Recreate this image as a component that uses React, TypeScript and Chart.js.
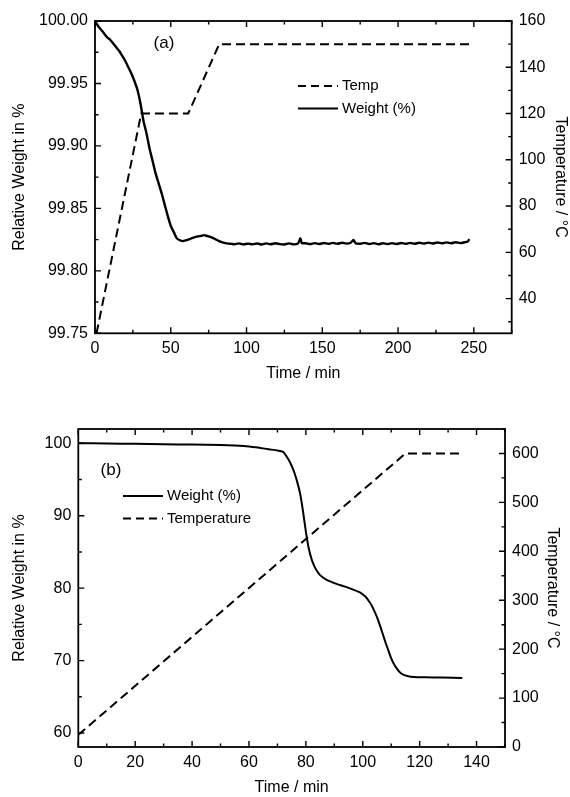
import React, { useEffect, useRef } from "react";
import { Chart, registerables } from "chart.js";

Chart.register(...registerables);

// ---------- Panel (a) data ----------
const weightA_time = [
  0, 2, 4, 6, 8, 10, 12, 14, 16, 18, 20, 22, 24, 26, 28, 30, 32, 34, 36, 38, 40, 42, 44, 46, 48, 50, 52, 54, 56,
  58, 60, 62, 64, 66, 68, 70, 72, 74, 76, 78, 80, 82, 84, 86, 88, 90,
  92, 95, 98, 101, 104, 107, 110, 113, 116, 119, 122, 125, 128, 131, 134, 135.5, 136.5, 139, 142, 145, 148, 151, 154,
  157, 160, 163, 166, 169, 170.5, 172, 175, 178, 181, 184, 187, 190, 193, 196, 199, 202, 205, 208, 211, 214, 217,
  220, 223, 226, 229, 232, 235, 238, 241, 244, 246, 247,
];
const weightA_value = [
  100.0, 99.996, 99.993, 99.99, 99.987, 99.985, 99.982, 99.979, 99.976, 99.972, 99.968, 99.963, 99.958, 99.952,
  99.945, 99.934, 99.92, 99.91, 99.898, 99.888, 99.878, 99.87, 99.862, 99.853, 99.844, 99.836, 99.831, 99.826,
  99.8245,
  99.8238, 99.8244, 99.8252, 99.8262, 99.827, 99.8276, 99.828, 99.8286, 99.8279, 99.8272, 99.8262, 99.825, 99.8238,
  99.8228, 99.8222, 99.8218, 99.8216,
  99.8212, 99.822, 99.8211, 99.8218, 99.8212, 99.8219, 99.8211, 99.822, 99.8213, 99.8221, 99.8214, 99.8211,
  99.822, 99.8212, 99.8219, 99.8262, 99.8222, 99.8221, 99.8214, 99.8222, 99.8215, 99.8223, 99.8216,
  99.8224, 99.8217, 99.8225, 99.8218, 99.8227, 99.8248, 99.8221, 99.8217, 99.8224, 99.8215, 99.8222, 99.8213,
  99.8221, 99.8214, 99.8222, 99.8215, 99.8223, 99.8216, 99.8224, 99.8217, 99.8225, 99.8218, 99.8226, 99.8219,
  99.8227, 99.822, 99.8228, 99.8221, 99.8229, 99.8222, 99.8229, 99.8234, 99.8254,
];
const tempA_time = [1, 30.5, 61.5, 82, 247.5];
const tempA_value = [25, 120, 120, 150, 150];

const xTicksA = [0, 50, 100, 150, 200, 250];
const yTicksA = [99.75, 99.8, 99.85, 99.9, 99.95, 100.0];
const rTicksA = [40, 60, 80, 100, 120, 140, 160];

// ---------- Panel (b) data ----------
const weightB_time = [
  0, 10, 20, 30, 40, 50, 55, 60, 64, 67, 70, 72, 73, 74, 75, 76, 77, 78, 79, 80, 81, 82, 83, 84, 85, 87, 90, 93,
  96, 99, 101, 102, 103, 104, 105, 106, 107, 108, 109, 110, 111, 112, 113, 114, 116, 118, 122, 128, 135,
];
const weightB_value = [
  100.0, 99.97, 99.92, 99.86, 99.82, 99.75, 99.68, 99.56, 99.35, 99.17, 99.0, 98.8, 98.3, 97.7, 96.9, 95.9, 94.6,
  93.0, 90.6, 87.8, 85.5, 84.0, 83.0, 82.3, 81.8, 81.2, 80.7, 80.3, 79.9, 79.4, 78.8, 78.3, 77.7, 76.9, 76.0, 74.9,
  73.7, 72.5, 71.4, 70.3, 69.5, 68.9, 68.4, 68.1, 67.85, 67.75, 67.7, 67.65, 67.6,
];
const tempB_time = [0, 115, 134];
const tempB_value = [25, 600, 600];

const xTicksB = [0, 20, 40, 60, 80, 100, 120, 140];
const yTicksB = [60, 70, 80, 90, 100];
const rTicksB = [0, 100, 200, 300, 400, 500, 600];

// ---------- styling ----------
const FAMILY = "'Liberation Sans', Arial, Helvetica, sans-serif";
const tickFont = { family: FAMILY, size: 16 };
const titleFont = { family: FAMILY, size: 16 };
const BLACK = "#000";

function pts(t: number[], v: number[]) {
  return t.map((x, i) => ({ x, y: v[i] }));
}

function isMajor(arr: number[], v: number) {
  return arr.some((m) => Math.abs(m - v) < 1e-7);
}

function minorValues(min: number, max: number, step: number) {
  const start = Math.ceil(min / step - 1e-9);
  const end = Math.floor(max / step + 1e-9);
  const out: number[] = [];
  for (let i = start; i <= end; i++) out.push(i * step);
  return out;
}

type LegendItem = { text: string; dashed: boolean; y: number };

function makeDecorPlugin(cfg: {
  xStep: number;
  yStep: number;
  rStep: number;
  xMajor: number[];
  yMajor: number[];
  rMajor: number[];
  tag: string;
  tagX: number;
  tagY: number;
  legendX0: number;
  legendX1: number;
  legendTextX: number;
  legend: LegendItem[];
}) {
  return {
    id: "decor",
    afterDatasetsDraw(chart: any) {
      const { ctx, chartArea: ca, scales } = chart;
      const xs = scales.x;
      const ys = scales.y;
      const rs = scales.yR;
      ctx.save();
      ctx.strokeStyle = BLACK;
      ctx.setLineDash([]);
      // ticks
      ctx.lineWidth = 1.4;
      const MAJ = 6;
      const MIN = 3.5;
      ctx.beginPath();
      for (const v of minorValues(xs.min, xs.max, cfg.xStep)) {
        const px = xs.getPixelForValue(v);
        const L = isMajor(cfg.xMajor, v) ? MAJ : MIN;
        ctx.moveTo(px, ca.bottom);
        ctx.lineTo(px, ca.bottom - L);
        ctx.moveTo(px, ca.top);
        ctx.lineTo(px, ca.top + L);
      }
      for (const v of minorValues(ys.min, ys.max, cfg.yStep)) {
        const py = ys.getPixelForValue(v);
        const L = isMajor(cfg.yMajor, v) ? MAJ : MIN;
        ctx.moveTo(ca.left, py);
        ctx.lineTo(ca.left + L, py);
      }
      for (const v of minorValues(rs.min, rs.max, cfg.rStep)) {
        const py = rs.getPixelForValue(v);
        const L = isMajor(cfg.rMajor, v) ? MAJ : MIN;
        ctx.moveTo(ca.right, py);
        ctx.lineTo(ca.right - L, py);
      }
      ctx.stroke();
      // frame
      ctx.lineWidth = 1.8;
      ctx.strokeRect(ca.left, ca.top, ca.right - ca.left, ca.bottom - ca.top);

      // panel tag
      ctx.fillStyle = BLACK;
      ctx.font = `17px ${FAMILY}`;
      ctx.textAlign = "center";
      ctx.textBaseline = "middle";
      ctx.fillText(cfg.tag, cfg.tagX, cfg.tagY);

      // legend
      ctx.font = `15px ${FAMILY}`;
      ctx.textAlign = "left";
      for (const item of cfg.legend) {
        ctx.lineWidth = 2;
        ctx.setLineDash(item.dashed ? [8, 5] : []);
        ctx.beginPath();
        ctx.moveTo(cfg.legendX0, item.y);
        ctx.lineTo(cfg.legendX1, item.y);
        ctx.stroke();
        ctx.setLineDash([]);
        ctx.fillText(item.text, cfg.legendTextX, item.y);
      }
      ctx.restore();
    },
  };
}

function axisBase(ticks: number[], min: number, max: number) {
  return {
    type: "linear" as const,
    min,
    max,
    afterBuildTicks: (s: any) => {
      s.ticks = ticks.map((v) => ({ value: v }));
    },
    grid: { display: false, drawTicks: false },
    border: { display: false },
  };
}

function makeConfig(p: {
  tempT: number[];
  tempV: number[];
  wT: number[];
  wV: number[];
  tempFirst: boolean;
  xTicks: number[];
  xMin: number;
  xMax: number;
  yTicks: number[];
  yMin: number;
  yMax: number;
  yFmt: (v: number) => string;
  rTicks: number[];
  rMin: number;
  rMax: number;
  padTop: number;
  leftW: number;
  rightW: number;
  bottomH: number;
  leftTitlePad: number;
  rightTitlePad: number;
  bottomTitlePad: number;
  weightWidth: number;
  plugin: any;
}) {
  const tempDs = {
    label: "Temp",
    data: pts(p.tempT, p.tempV),
    yAxisID: "yR",
    borderColor: BLACK,
    borderWidth: 2,
    borderDash: [9, 5],
    pointRadius: 0,
    fill: false,
    tension: 0,
  };
  const weightDs = {
    label: "Weight (%)",
    data: pts(p.wT, p.wV),
    yAxisID: "y",
    borderColor: BLACK,
    borderWidth: p.weightWidth,
    pointRadius: 0,
    fill: false,
    tension: 0.2,
  };
  return {
    type: "line" as const,
    data: { datasets: p.tempFirst ? [tempDs, weightDs] : [weightDs, tempDs] },
    options: {
      animation: false as const,
      responsive: false,
      events: [],
      layout: { padding: { top: p.padTop, left: 0, right: 0, bottom: 0 } },
      plugins: { legend: { display: false }, tooltip: { enabled: false }, title: { display: false } },
      scales: {
        x: {
          ...axisBase(p.xTicks, p.xMin, p.xMax),
          position: "bottom" as const,
          afterFit: (s: any) => {
            s.height = p.bottomH;
          },
          ticks: { font: tickFont, color: BLACK, padding: 6, maxRotation: 0, autoSkip: false },
          title: {
            display: true,
            text: "Time / min",
            font: titleFont,
            color: BLACK,
            padding: { top: 0, bottom: p.bottomTitlePad },
          },
        },
        y: {
          ...axisBase(p.yTicks, p.yMin, p.yMax),
          position: "left" as const,
          afterFit: (s: any) => {
            s.width = p.leftW;
          },
          ticks: { font: tickFont, color: BLACK, padding: 7, callback: (v: any) => p.yFmt(Number(v)) },
          title: {
            display: true,
            text: "Relative Weight in %",
            font: titleFont,
            color: BLACK,
            padding: { top: p.leftTitlePad, bottom: 0 },
          },
        },
        yR: {
          ...axisBase(p.rTicks, p.rMin, p.rMax),
          position: "right" as const,
          afterFit: (s: any) => {
            s.width = p.rightW;
          },
          ticks: { font: tickFont, color: BLACK, padding: 7 },
          title: {
            display: true,
            text: "Temperature / °C",
            font: titleFont,
            color: BLACK,
            padding: { top: p.rightTitlePad, bottom: 0 },
          },
        },
      },
    },
    plugins: [p.plugin],
  };
}

export default function App() {
  const refA = useRef<HTMLCanvasElement>(null);
  const refB = useRef<HTMLCanvasElement>(null);

  useEffect(() => {
    const pluginA = makeDecorPlugin({
      xStep: 25,
      yStep: 0.025,
      rStep: 10,
      xMajor: xTicksA,
      yMajor: yTicksA,
      rMajor: rTicksA,
      tag: "(a)",
      tagX: 164,
      tagY: 43,
      legendX0: 298,
      legendX1: 338,
      legendTextX: 342,
      legend: [
        { text: "Temp", dashed: true, y: 86 },
        { text: "Weight (%)", dashed: false, y: 108.5 },
      ],
    });
    const pluginB = makeDecorPlugin({
      xStep: 10,
      yStep: 5,
      rStep: 50,
      xMajor: xTicksB,
      yMajor: yTicksB,
      rMajor: rTicksB,
      tag: "(b)",
      tagX: 111,
      tagY: 70,
      legendX0: 123,
      legendX1: 163,
      legendTextX: 167,
      legend: [
        { text: "Weight (%)", dashed: false, y: 96 },
        { text: "Temperature", dashed: true, y: 118.5 },
      ],
    });

    const cfgA = makeConfig({
      tempT: tempA_time,
      tempV: tempA_value,
      wT: weightA_time,
      wV: weightA_value,
      tempFirst: true,
      xTicks: xTicksA,
      xMin: 0,
      xMax: 275,
      yTicks: yTicksA,
      yMin: 99.75,
      yMax: 100.0,
      yFmt: (v) => v.toFixed(2),
      rTicks: rTicksA,
      rMin: 25,
      rMax: 160,
      padTop: 21,
      leftW: 95,
      rightW: 58.3,
      bottomH: 66.7,
      leftTitlePad: 10,
      rightTitlePad: 0,
      bottomTitlePad: 17,
      weightWidth: 2.4,
      plugin: pluginA,
    });
    const cfgB = makeConfig({
      tempT: tempB_time,
      tempV: tempB_value,
      wT: weightB_time,
      wV: weightB_value,
      tempFirst: false,
      xTicks: xTicksB,
      xMin: 0,
      xMax: 150,
      yTicks: yTicksB,
      yMin: 58.07,
      yMax: 101.97,
      yFmt: (v) => String(v),
      rTicks: rTicksB,
      rMin: 0,
      rMax: 650,
      padTop: 29,
      leftW: 78.3,
      rightW: 65,
      bottomH: 50,
      leftTitlePad: 10,
      rightTitlePad: 8,
      bottomTitlePad: 0,
      weightWidth: 2,
      plugin: pluginB,
    });

    const a = new Chart(refA.current as HTMLCanvasElement, cfgA as any);
    const b = new Chart(refB.current as HTMLCanvasElement, cfgB as any);
    return () => {
      a.destroy();
      b.destroy();
    };
  }, []);

  return (
    <div style={{ position: "absolute", left: 0, top: 0, width: 570, height: 797, background: "#fff" }}>
      <canvas
        ref={refA}
        width={570}
        height={400}
        style={{ position: "absolute", left: 0, top: 0, width: 570, height: 400, display: "block" }}
      />
      <canvas
        ref={refB}
        width={570}
        height={397}
        style={{ position: "absolute", left: 0, top: 400, width: 570, height: 397, display: "block" }}
      />
    </div>
  );
}
